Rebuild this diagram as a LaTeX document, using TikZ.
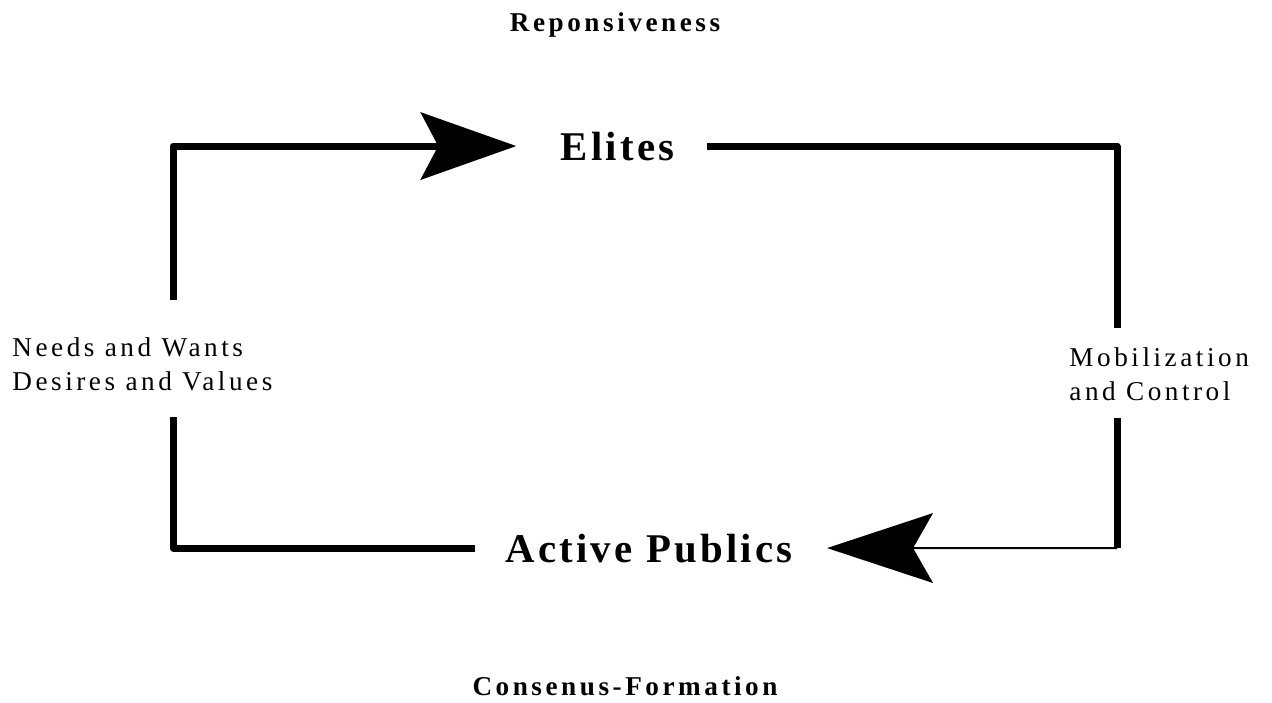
\documentclass[tikz,border=0pt]{standalone}
\usepackage{fontspec}
\usetikzlibrary{arrows.meta}
\newfontfamily\smallspaced[LetterSpace=13]{Liberation Serif}
\newfontfamily\bigspaced[LetterSpace=8]{Liberation Serif}
\tikzset{
  lbl/.style     = {font=\smallspaced\fontsize{13.6pt}{17pt}\selectfont, inner sep=0pt, align=left},
  lblb/.style    = {font=\smallspaced\bfseries\fontsize{13.6pt}{17pt}\selectfont, inner sep=0pt},
  actor/.style   = {font=\bigspaced\bfseries\fontsize{20.4pt}{24pt}\selectfont, inner sep=0pt},
  link/.style    = {line width=3.5pt, line join=round},
  flow/.style    = {link, -{Stealth[length=48pt, width=34pt, inset=9pt, line width=0pt]}},
  thinflow/.style= {line width=1pt, -{Stealth[length=53pt, width=35pt, inset=10pt, line width=0pt]}},
}
\begin{document}
\begin{tikzpicture}[x=0.5pt, y=-0.5pt]
	\useasboundingbox (0,0) rectangle (1272,702);
	\node[lblb, anchor=base] (resp)      at (615,31)  {Reponsiveness};
	\node[actor, anchor=base] (elites)   at (617.5,160) {Elites};
	\node[actor, anchor=base] (publics)  at (649,562) {Active Publics};
	\node[lblb, anchor=base] (consensus) at (625,695) {Consenus-Formation};
	\node[lbl, anchor=west] (needs)      at (12,364)  {Needs and Wants\\Desires and Values};
	\node[lbl, anchor=west] (mobil)      at (1069,374) {Mobilization\\and Control};
	% line ends beside the side labels
	\coordinate (lup)     at (173,300);
	\coordinate (llow)    at (173,417);
	\coordinate (rup)     at (1117,328);
	\coordinate (rlow)    at (1117,418);
	\coordinate (rcorner) at (1117,548);
	\draw[flow, shorten >=22pt] (lup) |- (elites);
	\draw[link, shorten <=16pt] (elites) -| (rup);
	\draw[link] (rlow) -- (rcorner);
	\draw[thinflow, shorten >=17pt] (rcorner) -- (publics);
	\draw[link, shorten <=15pt] (publics) -| (llow);
\end{tikzpicture}
\end{document}
